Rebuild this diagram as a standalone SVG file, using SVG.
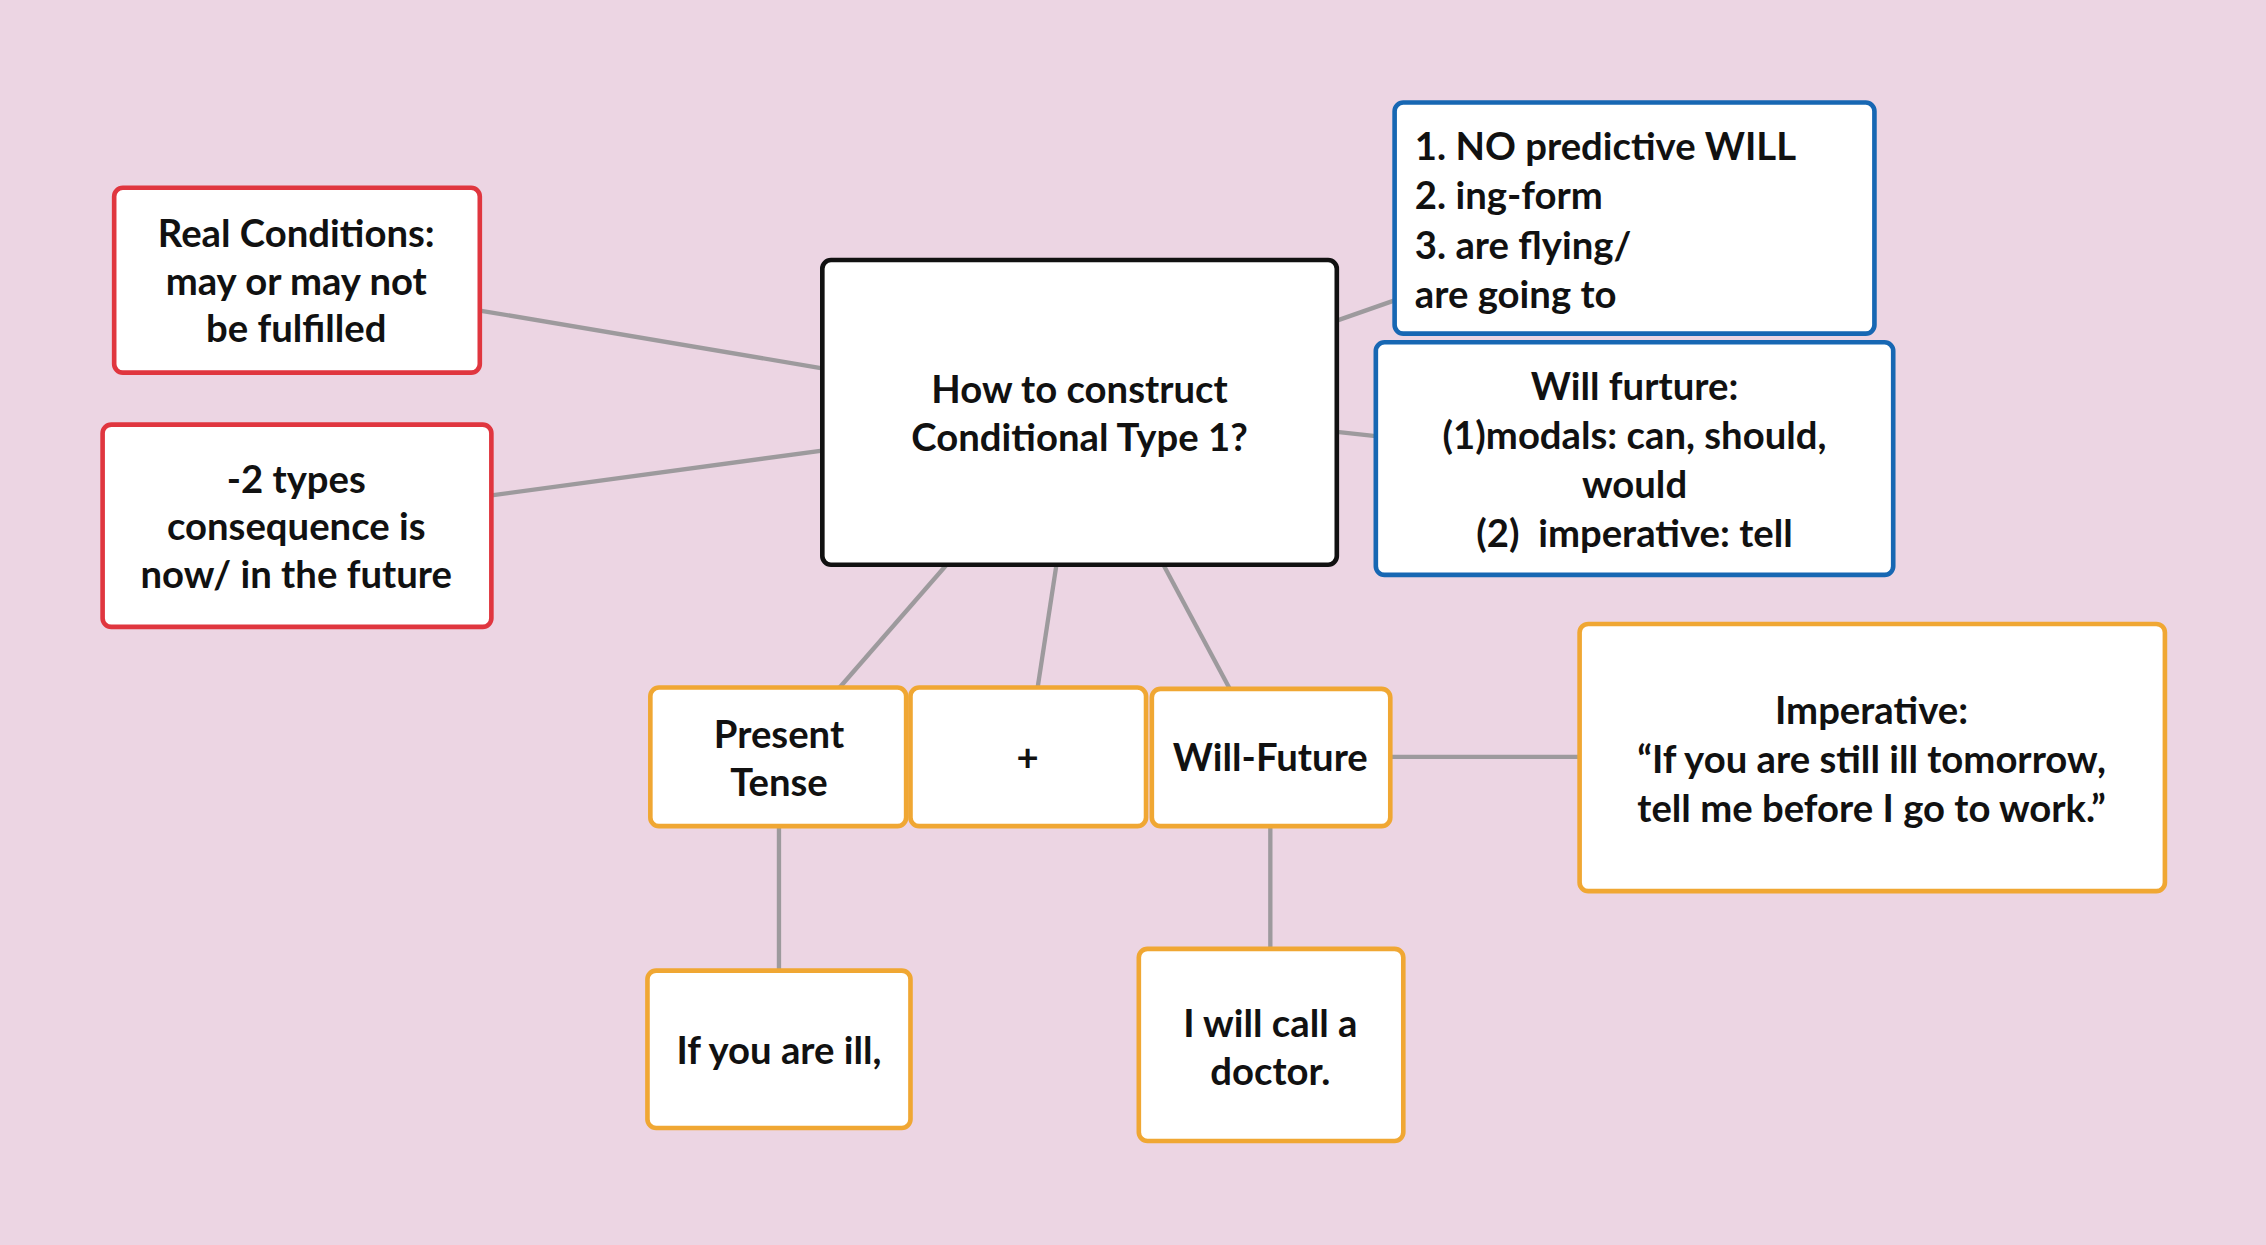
<svg xmlns="http://www.w3.org/2000/svg" width="2266" height="1245" viewBox="0 0 2266 1245">
<style>
.n{fill:#fff;stroke-width:3.2}
.r{stroke:#e0363f}.b{stroke:#1767b3}.o{stroke:#f0a733}.k{stroke:#111}
text{font-family:Lato,"Open Sans",sans-serif;font-weight:bold;font-size:26.5px;fill:#111;white-space:pre}
.c{text-anchor:middle}
#connectors line{stroke:#9d9a9d;stroke-width:3}
</style>
<rect width="2266" height="1245" fill="#ecd5e3"/>
<g transform="scale(1.4452,1.4443)">
<g id="connectors">
<line x1="332" y1="215" x2="569" y2="255"/>
<line x1="340" y1="343" x2="569" y2="312"/>
<line x1="925" y1="222" x2="965" y2="208"/>
<line x1="925" y1="299" x2="952" y2="302"/>
<line x1="655" y1="391" x2="581" y2="476"/>
<line x1="731" y1="391" x2="718" y2="476"/>
<line x1="805" y1="391" x2="851" y2="477"/>
<line x1="962" y1="524" x2="1093" y2="524"/>
<line x1="539" y1="572" x2="539" y2="672"/>
<line x1="879" y1="572" x2="879" y2="657"/>
</g>
<g id="center"><rect class="n k" x="569" y="180" width="356" height="211" rx="6"/>
<text class="c" x="747" y="279">How to construct</text><text class="c" x="747" y="312">Conditional Type 1?</text></g>
<g id="real"><rect class="n r" x="79" y="130" width="253" height="128" rx="6"/>
<text class="c" x="205" y="171">Real Conditions:</text><text class="c" x="205" y="204">may or may not</text><text class="c" x="205" y="237">be fulfilled</text></g>
<g id="types"><rect class="n r" x="71" y="294" width="269" height="140" rx="6"/>
<text class="c" x="205" y="341">-2 types</text><text class="c" x="205" y="374">consequence is</text><text class="c" x="205" y="407">now/ in the future</text></g>
<g id="nowill"><rect class="n b" x="965" y="71" width="332" height="160" rx="6"/>
<text x="979" y="111">1. NO predictive WILL</text><text x="979" y="145">2. ing-form</text><text x="979" y="179">3. are flying/</text><text x="979" y="213">are going to</text></g>
<g id="willfut"><rect class="n b" x="952" y="237" width="358" height="161" rx="6"/>
<text class="c" x="1131" y="277">Will furture:</text><text class="c" x="1131" y="311">(1)modals: can, should,</text><text class="c" x="1131" y="345">would</text><text class="c" x="1131" y="379">(2)  imperative: tell</text></g>
<g id="present"><rect class="n o" x="450" y="476" width="177" height="96" rx="6"/>
<text class="c" x="539" y="518">Present</text><text class="c" x="539" y="551">Tense</text></g>
<g id="plus"><rect class="n o" x="630" y="476" width="163" height="96" rx="6"/>
<text class="c" x="711" y="534">+</text></g>
<g id="willfuture"><rect class="n o" x="797" y="477" width="165" height="95" rx="6"/>
<text class="c" x="879" y="534">Will-Future</text></g>
<g id="imperative"><rect class="n o" x="1093" y="432" width="405" height="185" rx="6"/>
<text class="c" x="1295" y="501">Imperative:</text><text class="c" x="1295" y="535">“If you are still ill tomorrow,</text><text class="c" x="1295" y="569">tell me before I go to work.”</text></g>
<g id="ifill"><rect class="n o" x="448" y="672" width="182" height="109" rx="6"/>
<text class="c" x="539" y="737">If you are ill,</text></g>
<g id="doctor"><rect class="n o" x="788" y="657" width="183" height="133" rx="6"/>
<text class="c" x="879" y="718">I will call a</text><text class="c" x="879" y="751">doctor.</text></g>
</g>
</svg>
